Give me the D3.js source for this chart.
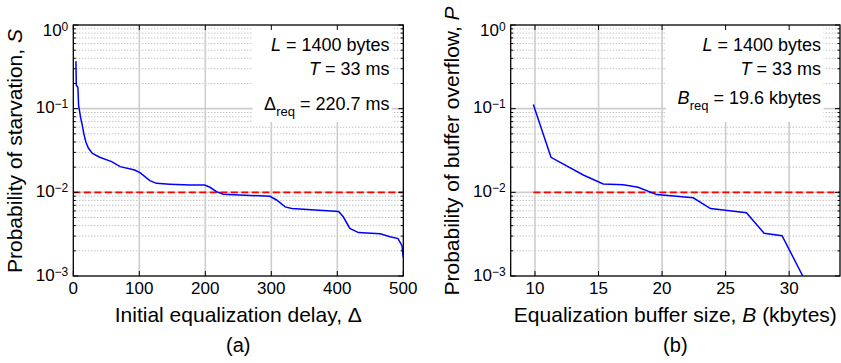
<!DOCTYPE html>
<html>
<head>
<meta charset="utf-8">
<script src="https://cdn.jsdelivr.net/npm/d3@7"></script>
<style>
  body { margin: 0; background: #fff; }
  text { font-family: "Liberation Sans", Arial, Helvetica, sans-serif; fill: #000; }
</style>
</head>
<body>
<div id="chart"></div>
<script>
// (a) starvation probability vs initial equalization delay
const delayMs = [4, 4.5, 7, 8, 11, 14, 16, 19, 23, 29, 40, 58, 71, 93, 101, 116, 126, 146, 177, 199,
  207, 217, 227, 298, 308, 321, 331, 402, 409, 419, 432, 465, 480, 492, 498, 500];
const starvationProb = [0.37, 0.19, 0.18, 0.11, 0.079, 0.061, 0.050, 0.040, 0.0336, 0.0292, 0.0263,
  0.0233, 0.0203, 0.0185, 0.0172, 0.0138, 0.0128, 0.0125, 0.0122, 0.0122, 0.0115, 0.0102, 0.0095,
  0.00896, 0.0081, 0.0067, 0.0064, 0.0059, 0.0051, 0.0037, 0.0033, 0.0032, 0.00294, 0.0028, 0.0023, 0.00167];

// (b) overflow probability vs equalization buffer size
const bufferKB = [9.87, 11.26, 13.8, 15.37, 16.94, 18.12, 19.57, 22.45, 23.81, 26.64, 28.03, 29.44, 31.07];
const overflowProb = [0.112, 0.0262, 0.0161, 0.0126, 0.0123, 0.0115, 0.0094, 0.0086, 0.0064, 0.0057,
  0.00324, 0.00303, 0.001];

const delayTicks  = [0, 100, 200, 300, 400, 500];
const bufferTicks = [10, 15, 20, 25, 30];
const probExponents = [0, -1, -2, -3];
const targetProb = 0.01;

const svg = d3.select('#chart')
  .append('svg')
    .attr('width', 841)
    .attr('height', 363);

const plotTop = 25;
const plotBottom = 276;

const y = d3.scaleLog()
    .domain([1e-3, 1])
    .range([plotBottom, plotTop]);

// minor decade values 2..9 x 10^e
const minorProb = [];
[-3, -2, -1].forEach(e => {
  for (let m = 2; m <= 9; m++) minorProb.push(m * Math.pow(10, e));
});

function drawPanel(cfg) {
  const x = d3.scaleLinear()
      .domain(cfg.xDomain)
      .range([cfg.left, cfg.right]);

  const g = svg.append('g');

  g.append('clipPath')
      .attr('id', cfg.id + '-clip')
    .append('rect')
      .attr('x', cfg.left)
      .attr('y', plotTop)
      .attr('width', cfg.right - cfg.left)
      .attr('height', plotBottom - plotTop);

  // dotted minor grid
  g.selectAll('.minor')
      .data(minorProb)
    .join('line')
      .attr('x1', cfg.left)
      .attr('x2', cfg.right)
      .attr('y1', d => y(d))
      .attr('y2', d => y(d))
      .attr('stroke', '#a8a8a8')
      .attr('stroke-width', 1)
      .attr('stroke-dasharray', '1,2');

  // major grid
  g.selectAll('.hgrid')
      .data(probExponents.slice(1, -1))
    .join('line')
      .attr('x1', cfg.left)
      .attr('x2', cfg.right)
      .attr('y1', d => y(Math.pow(10, d)))
      .attr('y2', d => y(Math.pow(10, d)))
      .attr('stroke', '#cdcdcd')
      .attr('stroke-width', 1.6);

  g.selectAll('.vgrid')
      .data(cfg.ticks.filter(t => x(t) > cfg.left + 1 && x(t) < cfg.right - 1))
    .join('line')
      .attr('x1', d => x(d))
      .attr('x2', d => x(d))
      .attr('y1', plotTop)
      .attr('y2', plotBottom)
      .attr('stroke', '#cdcdcd')
      .attr('stroke-width', 1.6);

  // annotation box
  const box = g.append('rect').attr('fill', '#fff');
  const note = g.append('g');
  cfg.notes.forEach((n, i) => {
    const t = note.append('text')
        .attr('x', cfg.noteX)
        .attr('y', n.y)
        .attr('text-anchor', 'end')
        .attr('font-size', '18px');
    t.append('tspan').attr('font-style', n.italic ? 'italic' : 'normal').text(n.sym);
    if (n.sub) {
      t.append('tspan').attr('font-size', '13px').attr('dy', 6).text(n.sub);
      t.append('tspan').attr('dy', -6).text(n.rest);
    } else {
      t.append('tspan').text(n.rest);
    }
  });
  const bb = note.node().getBBox();
  box.attr('x', bb.x - 11.5)
      .attr('y', plotTop)
      .attr('width', bb.width + 14)
      .attr('height', 122 - plotTop);

  // threshold and curve
  g.append('line')
      .attr('clip-path', `url(#${cfg.id}-clip)`)
      .attr('x1', x(cfg.threshStart))
      .attr('x2', cfg.right)
      .attr('y1', y(targetProb))
      .attr('y2', y(targetProb))
      .attr('stroke', '#ff0000')
      .attr('stroke-width', 1.6)
      .attr('stroke-dasharray', '7,3.5');

  const line = d3.line()
      .x(d => x(d[0]))
      .y(d => y(d[1]));

  g.append('path')
      .datum(cfg.xs.map((v, i) => [v, cfg.ys[i]]))
      .attr('clip-path', `url(#${cfg.id}-clip)`)
      .attr('fill', 'none')
      .attr('stroke', '#0000ff')
      .attr('stroke-width', 1.5)
      .attr('d', line);

  // tick marks (inward)
  const tk = g.append('g').attr('stroke', '#000').attr('stroke-width', 1);
  cfg.ticks.forEach(t => {
    tk.append('line').attr('x1', x(t)).attr('x2', x(t)).attr('y1', plotBottom).attr('y2', plotBottom - 5);
    tk.append('line').attr('x1', x(t)).attr('x2', x(t)).attr('y1', plotTop).attr('y2', plotTop + 5);
  });
  probExponents.forEach(e => {
    const yy = y(Math.pow(10, e));
    tk.append('line').attr('x1', cfg.left).attr('x2', cfg.left + 5).attr('y1', yy).attr('y2', yy);
    tk.append('line').attr('x1', cfg.right).attr('x2', cfg.right - 5).attr('y1', yy).attr('y2', yy);
  });
  minorProb.forEach(v => {
    tk.append('line').attr('x1', cfg.left).attr('x2', cfg.left + 2.5).attr('y1', y(v)).attr('y2', y(v));
    tk.append('line').attr('x1', cfg.right).attr('x2', cfg.right - 2.5).attr('y1', y(v)).attr('y2', y(v));
  });

  // frame
  g.append('rect')
      .attr('x', cfg.left)
      .attr('y', plotTop)
      .attr('width', cfg.right - cfg.left)
      .attr('height', plotBottom - plotTop)
      .attr('fill', 'none')
      .attr('stroke', '#000')
      .attr('stroke-width', 1.3);

  // tick labels
  g.selectAll('.xlab')
      .data(cfg.ticks)
    .join('text')
      .attr('x', d => x(d))
      .attr('y', 294)
      .attr('text-anchor', 'middle')
      .attr('font-size', '17px')
      .text(d => d);

  probExponents.forEach((e, i) => {
    const yy = y(Math.pow(10, e)) + (i === 0 ? 11 : 4.5);
    const t = g.append('text')
        .attr('x', cfg.left - 5)
        .attr('y', yy)
        .attr('text-anchor', 'end')
        .attr('font-size', '17px');
    t.append('tspan').text('10');
    t.append('tspan').attr('font-size', '12px').attr('dy', -5)
        .text(e < 0 ? '\u2212' + Math.abs(e) : e);
  });

  // axis titles
  const xt = g.append('text')
      .attr('x', (cfg.left + cfg.right) / 2)
      .attr('y', 322)
      .attr('text-anchor', 'middle')
      .attr('font-size', '21px');
  cfg.xTitle.forEach(p => xt.append('tspan').attr('font-style', p[1] ? 'italic' : 'normal').text(p[0]));

  const yt = g.append('text')
      .attr('transform', `translate(${cfg.yTitleX},151) rotate(-90)`)
      .attr('text-anchor', 'middle')
      .attr('font-size', '21px');
  cfg.yTitle.forEach(p => yt.append('tspan').attr('font-style', p[1] ? 'italic' : 'normal').text(p[0]));

  g.append('text')
      .attr('x', (cfg.left + cfg.right) / 2)
      .attr('y', 352)
      .attr('text-anchor', 'middle')
      .attr('font-size', '20px')
      .text(cfg.tag);
}

drawPanel({
  id: 'a',
  left: 73.3,
  right: 403.3,
  xDomain: [0, 500],
  ticks: delayTicks,
  xs: delayMs,
  ys: starvationProb,
  threshStart: 0,
  noteX: 389.5,
  notes: [
    { sym: 'L', italic: true, rest: ' = 1400 bytes', y: 51 },
    { sym: 'T', italic: true, rest: ' = 33 ms', y: 75 },
    { sym: '\u0394', italic: false, sub: 'req', rest: ' = 220.7 ms', y: 110 }
  ],
  xTitle: [['Initial equalization delay, \u0394', false]],
  yTitle: [['Probability of starvation, ', false], ['S', true]],
  yTitleX: 22,
  tag: '(a)'
});

drawPanel({
  id: 'b',
  left: 510.7,
  right: 840,
  xDomain: [8.09, 34],
  ticks: bufferTicks,
  xs: bufferKB,
  ys: overflowProb,
  threshStart: 9.87,
  noteX: 821,
  notes: [
    { sym: 'L', italic: true, rest: ' = 1400 bytes', y: 51 },
    { sym: 'T', italic: true, rest: ' = 33 ms', y: 75 },
    { sym: 'B', italic: true, sub: 'req', rest: ' = 19.6 kbytes', y: 104 }
  ],
  xTitle: [['Equalization buffer size, ', false], ['B', true], [' (kbytes)', false]],
  yTitle: [['Probability of buffer overflow, ', false], ['P', true]],
  yTitleX: 459,
  tag: '(b)'
});
</script>
</body>
</html>
